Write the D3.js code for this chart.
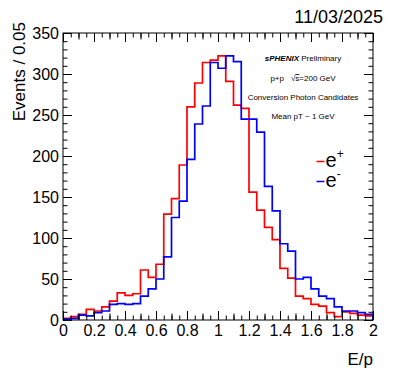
<!DOCTYPE html>
<html>
<head>
<meta charset="utf-8">
<script src="https://cdn.jsdelivr.net/npm/d3@7"></script>
<style>
  html, body { margin: 0; padding: 0; background: #fff; }
  svg { display: block; }
  text { font-family: "Liberation Sans", Arial, Helvetica, sans-serif; fill: #000; }
</style>
</head>
<body>
<svg id="chart" width="393" height="381"></svg>
<script>
// ---- data ----
const binWidth = 0.05;
const binStarts = d3.range(40).map(i => +(i * binWidth).toFixed(2));
const positronCounts = [2, 4, 7, 13, 11, 16, 23, 33, 30, 32, 61, 52, 68, 129, 148, 189, 260, 289, 314, 317,
                        322, 291, 262, 258, 156, 134, 113, 98, 63, 51, 29, 26, 19, 17, 9, 4, 10, 8, 6, 5];
const electronCounts = [1, 2, 6, 5, 9, 11, 19, 20, 19, 20, 29, 38, 50, 77, 125, 145, 196, 239, 261, 314,
                        307, 322, 315, 245, 245, 229, 163, 133, 93, 84, 50, 52, 38, 29, 26, 16, 11, 11, 9, 7];
const xMajorTicks = [0, 0.2, 0.4, 0.6, 0.8, 1, 1.2, 1.4, 1.6, 1.8, 2];
const yMajorTicks = [0, 50, 100, 150, 200, 250, 300, 350];
const xTitle = "E/p";
const yTitle = "Events / 0.05";
const dateLabel = "11/03/2025";
const infoLines = ["Preliminary", "p+p", "Conversion Photon Candidates", "Mean pT ~ 1 GeV"];

// ---- layout ----
const L = 63, R = 373, T = 33, B = 320;
const svg = d3.select("#chart");
const x = d3.scaleLinear().domain([0, 2]).range([L, R]);
const y = d3.scaleLinear().domain([0, 350]).range([B, T]);

svg.append("defs").append("clipPath").attr("id", "clip")
  .append("rect").attr("x", L).attr("y", T).attr("width", R - L).attr("height", B - T);

// histograms
function stepPoints(counts) {
  const pts = [[binStarts[0], 0]];
  counts.forEach((v, i) => {
    pts.push([binStarts[i], v]);
    pts.push([binStarts[i] + binWidth, v]);
  });
  pts.push([binStarts[binStarts.length - 1] + binWidth, 0]);
  return pts;
}
const line = d3.line().x(d => x(d[0])).y(d => y(d[1]));
const g = svg.append("g").attr("clip-path", "url(#clip)");
g.append("path").attr("d", line(stepPoints(positronCounts)))
  .attr("fill", "none").attr("stroke", "#ff0000").attr("stroke-width", 1.7);
g.append("path").attr("d", line(stepPoints(electronCounts)))
  .attr("fill", "none").attr("stroke", "#0000ff").attr("stroke-width", 1.7);

// ticks
const xMinor = d3.range(0, 2.0001, 0.05).map(v => +v.toFixed(2));
const xMed = d3.range(0.1, 2, 0.2).map(v => +v.toFixed(2));
const yMinor = d3.range(0, 350.1, 10);
function addAxis(axis, transform) {
  const a = svg.append("g").attr("transform", transform).call(axis);
  a.select(".domain").remove();
  a.selectAll("line").attr("stroke", "#000").attr("stroke-width", 1);
  return a;
}
// bottom
addAxis(d3.axisBottom(x).tickValues(xMinor).tickSize(-4.5).tickFormat(""), `translate(0,${B})`);
addAxis(d3.axisBottom(x).tickValues(xMed).tickSize(-6.5).tickFormat(""), `translate(0,${B})`);
const xb = addAxis(d3.axisBottom(x).tickValues(xMajorTicks).tickSize(-9).tickPadding(0)
  .tickFormat(d => d3.format("~g")(d)), `translate(0,${B})`);
xb.selectAll("text").attr("font-size", 16).attr("dy", null).attr("y", 16)
  .attr("font-family", "'Liberation Sans', Arial, sans-serif");
// top
addAxis(d3.axisTop(x).tickValues(xMinor).tickSize(-4.5).tickFormat(""), `translate(0,${T})`);
addAxis(d3.axisTop(x).tickValues(xMed).tickSize(-6.5).tickFormat(""), `translate(0,${T})`);
addAxis(d3.axisTop(x).tickValues(xMajorTicks).tickSize(-9).tickFormat(""), `translate(0,${T})`);
// left
addAxis(d3.axisLeft(y).tickValues(yMinor).tickSize(-4.5).tickFormat(""), `translate(${L},0)`);
const yl = addAxis(d3.axisLeft(y).tickValues(yMajorTicks).tickSize(-9).tickPadding(0).tickFormat(d => d), `translate(${L},0)`);
yl.selectAll("text").attr("font-size", 16).attr("x", -4).attr("dy", "0.36em")
  .attr("font-family", "'Liberation Sans', Arial, sans-serif");
// right
addAxis(d3.axisRight(y).tickValues(yMinor).tickSize(-4.5).tickFormat(""), `translate(${R},0)`);
addAxis(d3.axisRight(y).tickValues(yMajorTicks).tickSize(-9).tickFormat(""), `translate(${R},0)`);

// frame
svg.append("rect").attr("x", L).attr("y", T).attr("width", R - L).attr("height", B - T)
  .attr("fill", "none").attr("stroke", "#000").attr("stroke-width", 1);

// axis titles
svg.append("text").attr("x", R).attr("y", 365).attr("text-anchor", "end")
  .attr("font-size", 17).text(xTitle);
svg.append("text").attr("transform", "translate(25,22) rotate(-90)").attr("text-anchor", "end")
  .attr("font-size", 17).text(yTitle);

// date
svg.append("text").attr("x", 383).attr("y", 23).attr("text-anchor", "end")
  .attr("font-size", 18).text(dateLabel);

// info text
const cx = 303;
const t1 = svg.append("text").attr("x", cx).attr("y", 61).attr("text-anchor", "middle").attr("font-size", 8);
t1.append("tspan").attr("font-weight", "bold").attr("font-style", "italic").text("sPHENIX");
t1.append("tspan").text(" " + infoLines[0]);
const t2 = svg.append("text").attr("x", cx).attr("y", 81).attr("text-anchor", "middle").attr("font-size", 8);
t2.append("tspan").text(infoLines[1]);
t2.append("tspan").attr("dx", 7).text("\u221A");
t2.append("tspan").attr("text-decoration", "overline").text("s");
t2.append("tspan").text("=200 GeV");
svg.append("text").attr("x", cx).attr("y", 100).attr("text-anchor", "middle").attr("font-size", 8).text(infoLines[2]);
svg.append("text").attr("x", cx).attr("y", 119).attr("text-anchor", "middle").attr("font-size", 8).text(infoLines[3]);

// legend
const legend = [
  {color: "#ff0000", sup: "+", y: 161.5},
  {color: "#0000ff", sup: "-", y: 181.5}
];
legend.forEach(d => {
  svg.append("line").attr("x1", 316.5).attr("x2", 324.5).attr("y1", d.y).attr("y2", d.y)
    .attr("stroke", d.color).attr("stroke-width", 1.5);
  const t = svg.append("text").attr("x", 325.5).attr("y", d.y + 5.5).attr("font-size", 20);
  t.append("tspan").text("e");
  t.append("tspan").attr("font-size", 12).attr("dy", -9).text(d.sup);
});
</script>
</body>
</html>
